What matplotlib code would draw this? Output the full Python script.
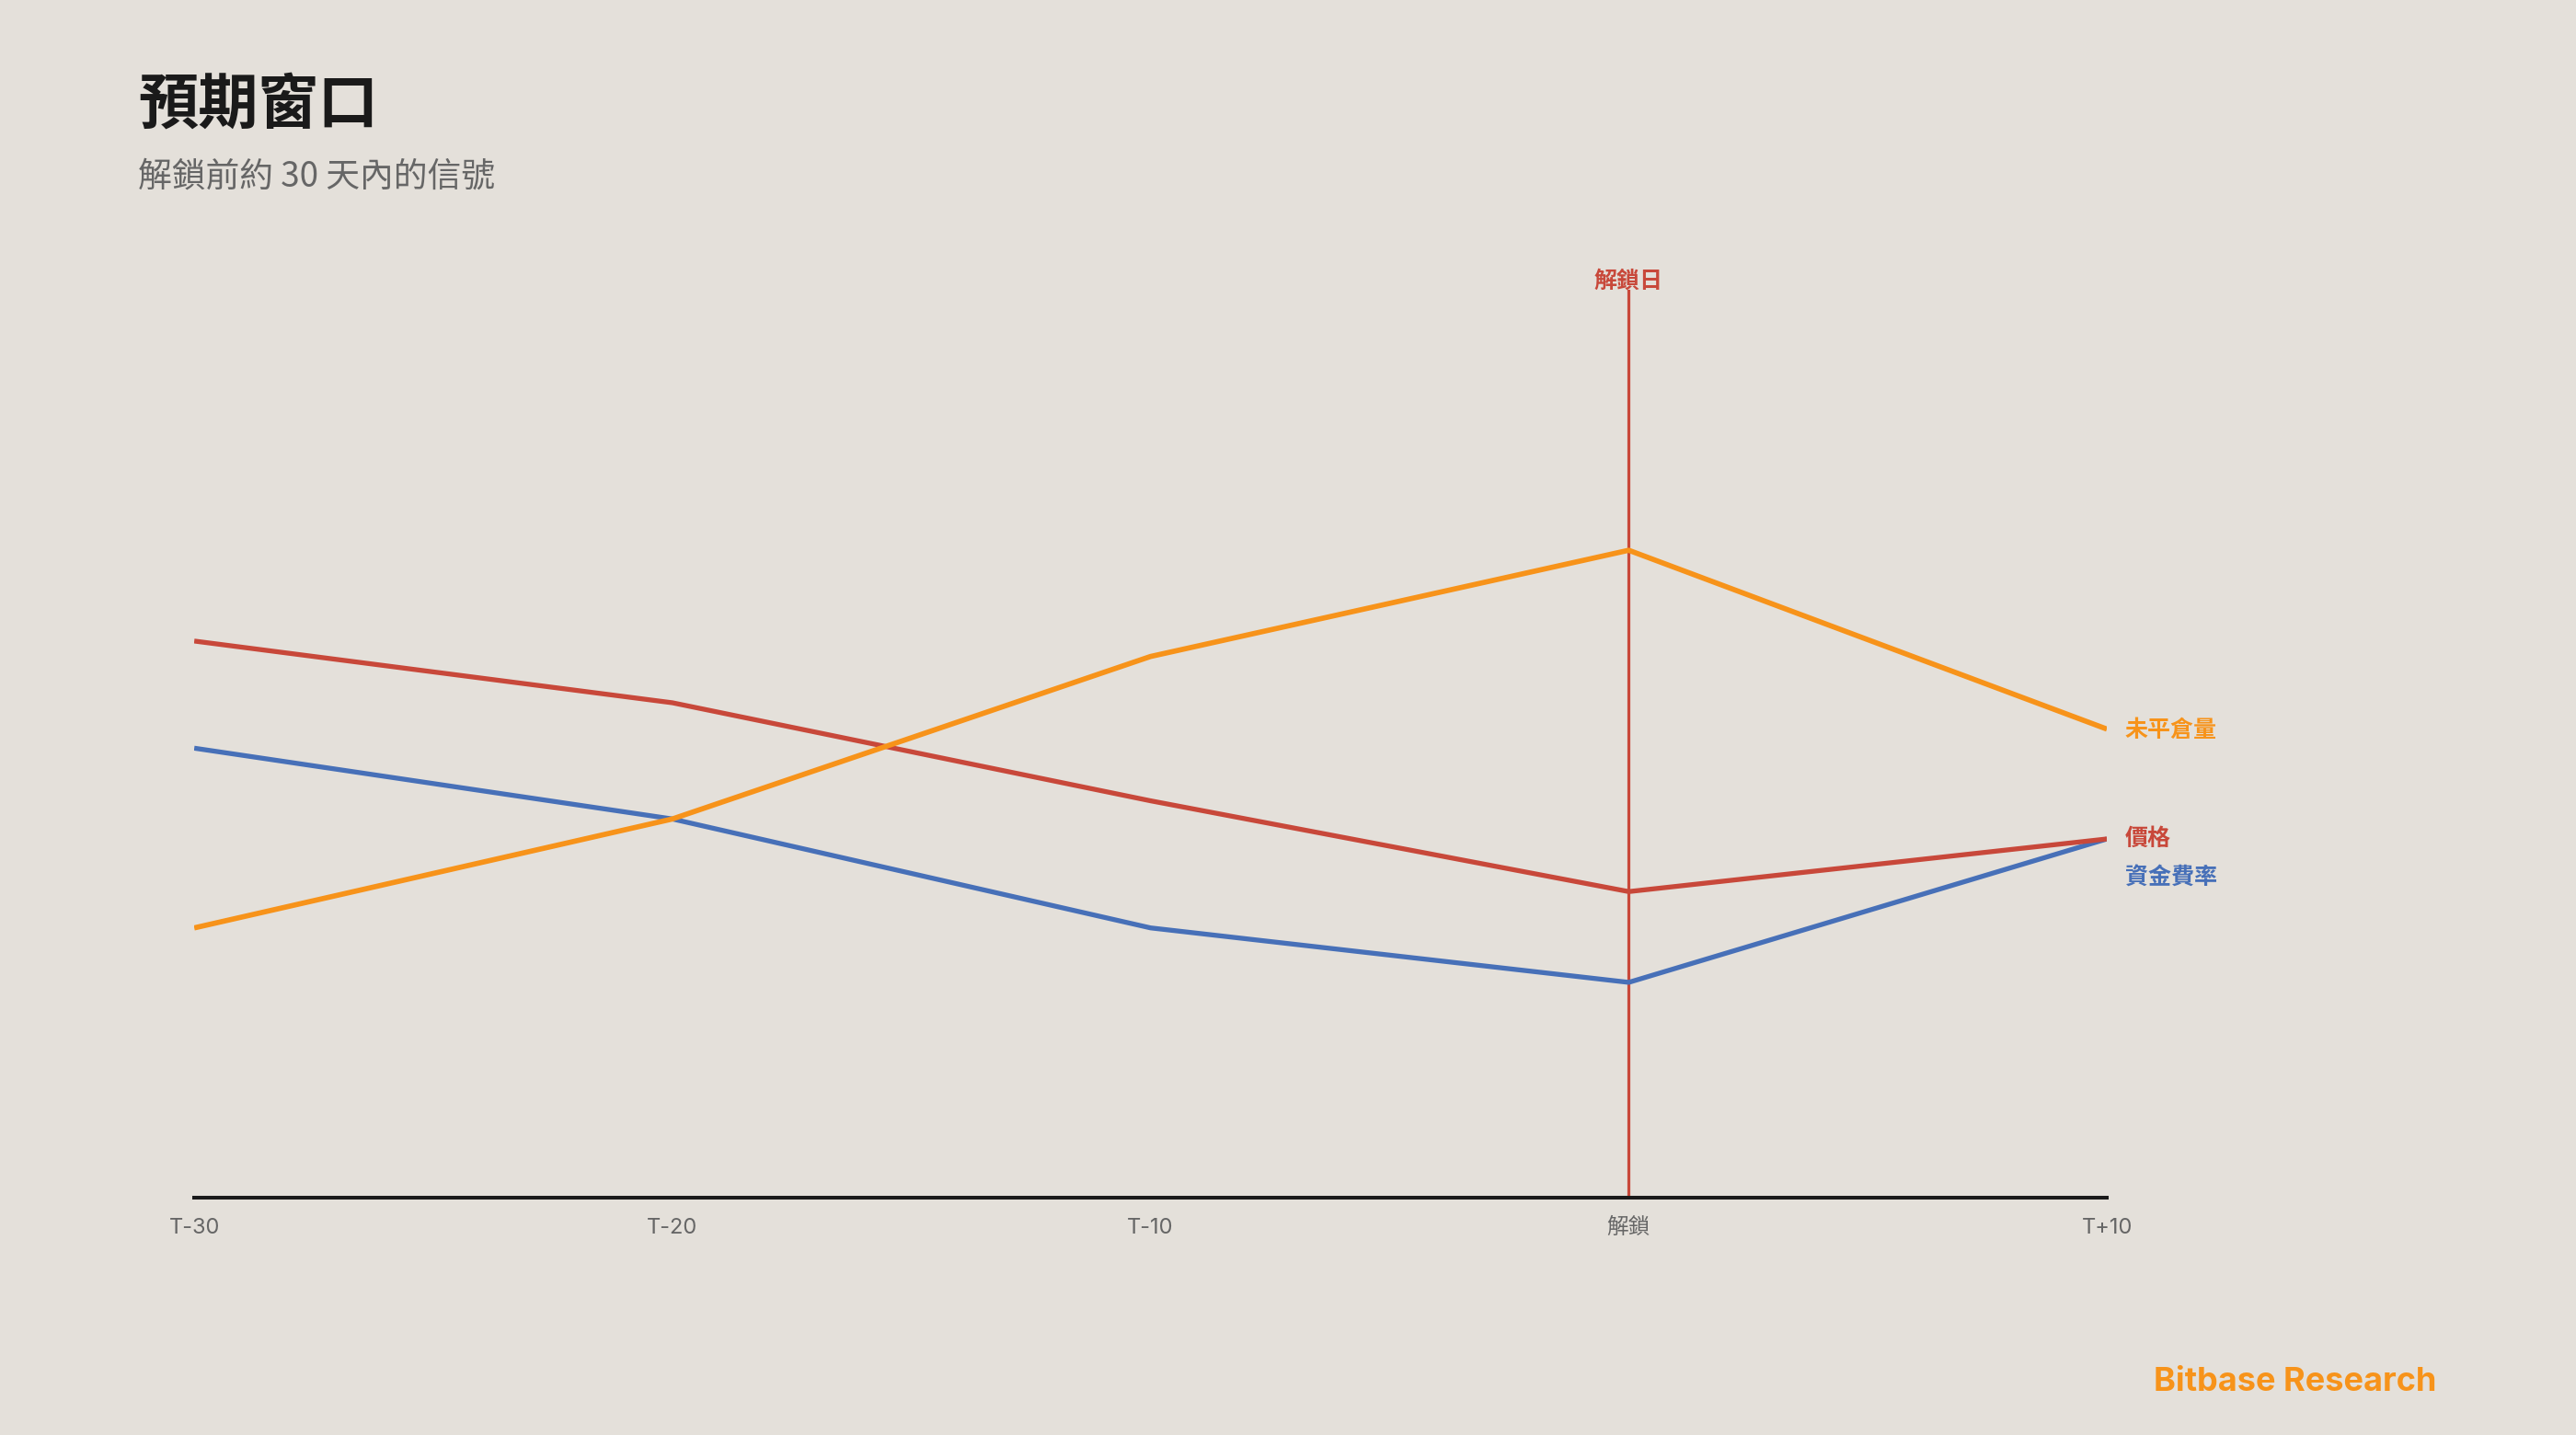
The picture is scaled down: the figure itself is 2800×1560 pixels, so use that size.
import matplotlib
matplotlib.use("Agg")
import matplotlib.pyplot as plt

# data (0-100 scale)
x_labels = ["T-30", "T-20", "T-10", "解鎖", "T+10"]
open_interest = [29.7, 41.7, 59.6, 71.3, 51.6]
price = [61.3, 54.5, 43.7, 33.7, 39.5]
funding_rate = [49.5, 41.7, 29.7, 23.7, 39.5]
series_names = ["未平倉量", "價格", "資金費率"]
unlock_index = 3
unlock_label = "解鎖日"

BG = "#E4E0DA"
ORANGE = "#F7931A"
RED = "#C8483A"
BLUE = "#4770B8"

plt.rcParams["font.family"] = ["Inter", "Noto Sans CJK TC", "DejaVu Sans"]
CJK = ["Noto Sans CJK TC", "DejaVu Sans"]

fig = plt.figure(figsize=(28, 15.6), dpi=100, facecolor=BG)
ax = fig.add_axes([0.0754, 0.1655, 0.7425, 0.6326])
ax.set_facecolor(BG)

x = list(range(len(x_labels)))
ax.axvline(unlock_index, color=RED, lw=2.3, zorder=1)
ax.plot(x, funding_rate, color=BLUE, lw=3.8, zorder=3, solid_capstyle="butt")
ax.plot(x, price, color=RED, lw=3.8, zorder=3, solid_capstyle="butt")
ax.plot(x, open_interest, color=ORANGE, lw=4.1, zorder=4, solid_capstyle="butt")

ax.set_xlim(0, len(x_labels) - 1)
ax.set_ylim(0, 100)
ax.set_xticks(x)
ax.set_xticklabels(x_labels)
ax.tick_params(axis="x", length=0, pad=16, labelsize=17, labelcolor="#666666")
for lbl in ax.get_xticklabels():
    lbl.set_fontfamily(["Inter", "Noto Sans CJK TC"])
ax.set_yticks([])
for side in ["top", "right", "left"]:
    ax.spines[side].set_visible(False)
ax.spines["bottom"].set_color("#1a1a1a")
ax.spines["bottom"].set_linewidth(2.9)

# unlock-day label above the marker line
ax.annotate(unlock_label, xy=(unlock_index, 100), xytext=(0, -2),
            textcoords="offset points", ha="center", va="bottom",
            fontsize=18, fontweight="bold", color=RED, family=CJK,
            annotation_clip=False)

# end labels
last = len(x_labels) - 1
ax.annotate(series_names[0], xy=(last, open_interest[-1]), xytext=(14, -1),
            textcoords="offset points", ha="left", va="center",
            fontsize=18, fontweight="bold", color=ORANGE, family=CJK,
            annotation_clip=False)
ax.annotate(series_names[1], xy=(last, price[-1]), xytext=(14, 0),
            textcoords="offset points", ha="left", va="center",
            fontsize=18, fontweight="bold", color=RED, family=CJK,
            annotation_clip=False)
ax.annotate(series_names[2], xy=(last, funding_rate[-1]), xytext=(14, -30),
            textcoords="offset points", ha="left", va="center",
            fontsize=18, fontweight="bold", color=BLUE, family=CJK,
            annotation_clip=False)

# title block
fig.text(150 / 2800, 1 - 114 / 1560, "預期窗口", ha="left", va="center",
         fontsize=47, fontweight="bold", color="#1a1a1a", family=CJK)
fig.text(150 / 2800, 1 - 192 / 1560, "解鎖前約 30 天內的信號", ha="left", va="center",
         fontsize=26.5, color="#666666", family=CJK)

fig.text(2648 / 2800, 1 - 1502 / 1560, "Bitbase Research", ha="right", va="center",
         fontsize=26, fontweight="bold", color=ORANGE, family=["Inter", "DejaVu Sans"])

fig.savefig("out.png", dpi=100, facecolor=BG)
